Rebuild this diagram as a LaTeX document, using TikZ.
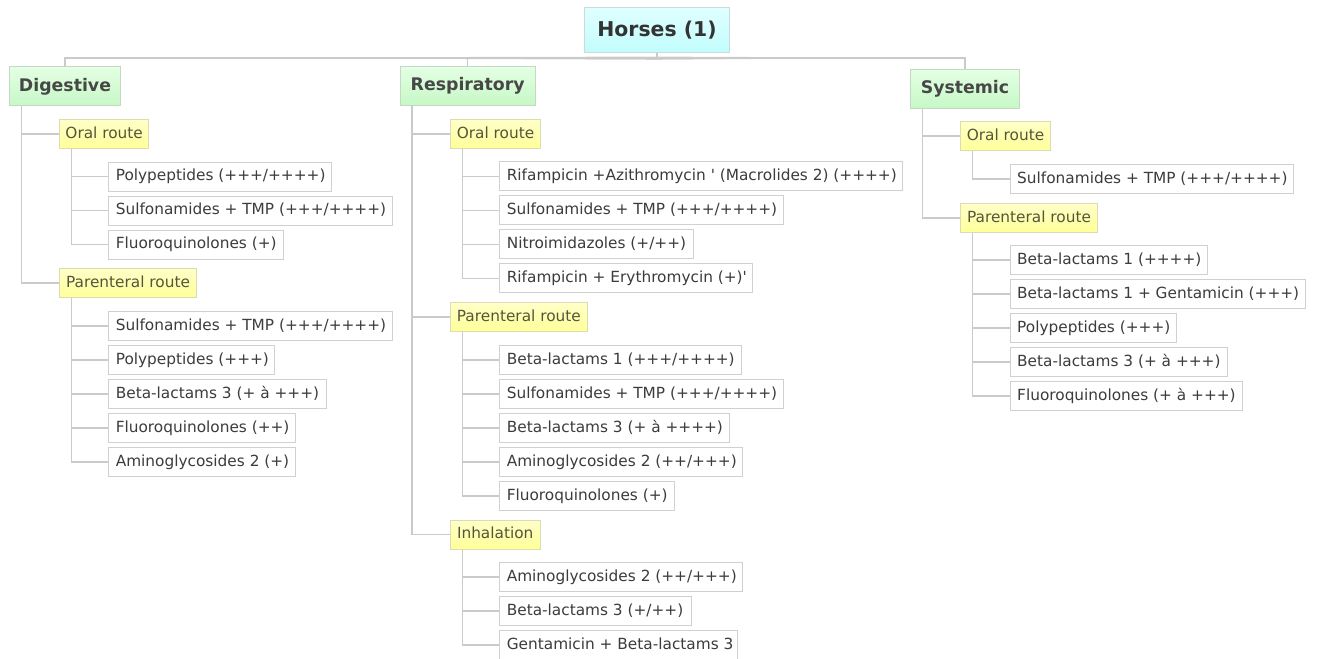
\documentclass[tikz,border=0pt]{standalone}
\usepackage{fontspec}
\setmainfont{DejaVu Sans}
\usetikzlibrary{calc}
\definecolor{connc}{HTML}{CACACA}
\definecolor{leafborder}{HTML}{D0D0D0}
\definecolor{leaftext}{HTML}{3C3C3C}
\definecolor{routetop}{HTML}{FFFFC8}
\definecolor{routebot}{HTML}{FFFF99}
\definecolor{routeborder}{HTML}{DCDCB4}
\definecolor{routetext}{HTML}{55553A}
\definecolor{cattop}{HTML}{E4FFE4}
\definecolor{catbot}{HTML}{C6F8C6}
\definecolor{catborder}{HTML}{C4D8C4}
\definecolor{cattext}{HTML}{474747}
\definecolor{roottop}{HTML}{E0FFFF}
\definecolor{rootbot}{HTML}{C2FCFC}
\definecolor{rootborder}{HTML}{C8DCDC}
\definecolor{roottext}{HTML}{333333}
\tikzset{
  conn/.style={draw=connc, line width=0.9pt},
  leafbox/.style={draw=leafborder, fill=white, line width=0.75pt, inner xsep=5.25pt, inner ysep=0pt,
    minimum height=21.75pt, anchor=west, text=leaftext, font=\fontsize{11.5}{13}\selectfont,
    text height=8.6pt, text depth=2.4pt},
  routebox/.style={draw=routeborder, top color=routetop, bottom color=routebot, line width=0.75pt,
    inner xsep=5.25pt, inner ysep=0pt, minimum height=21.75pt, anchor=west, text=routetext,
    font=\fontsize{11.5}{13}\selectfont, text height=8.6pt, text depth=2.4pt},
  catbox/.style={draw=catborder, top color=cattop, bottom color=catbot, line width=0.75pt,
    inner sep=0pt, text=cattext, font=\bfseries\fontsize{13}{15}\selectfont},
  rootbox/.style={draw=rootborder, top color=roottop, bottom color=rootbot, line width=0.75pt,
    inner sep=0pt, text=roottext, font=\bfseries\fontsize{15.3}{18}\selectfont}
}
\newcommand\leafnode[5]{\node[leafbox] (#1) at (#2,#4) {\makebox[\dimexpr(#3pt-#2pt-14pt)*3/4\relax][l]{#5}};}
\newcommand\routenode[5]{\node[routebox] (#1) at (#2,#4) {\makebox[\dimexpr(#3pt-#2pt-14pt)*3/4\relax][c]{#5}};}
\newcommand\linkto[2]{\draw[conn] ($(#1.south west)+(12.5,0)$) |- (#2.west);}
\begin{document}
\begin{tikzpicture}[x=0.75pt,y=-0.75pt]
\useasboundingbox (0,0) rectangle (1317,659);
% root and categories
\node[rootbox, minimum width=108.2pt, minimum height=34pt] (root) at (657,30) {Horses (1)};
\node[catbox, minimum width=83.5pt, minimum height=29.5pt] (dig) at (65,86.3) {Digestive};
\node[catbox, minimum width=101.5pt, minimum height=29pt] (res) at (467.7,86) {Respiratory};
\node[catbox, minimum width=81.5pt, minimum height=29pt] (sys) at (965,88.7) {Systemic};
\coordinate (bar) at (0,58);
\fill[black!30, opacity=0.6] (150,57.7) -- (657,56.6) -- (910,57.7) -- (657,59.8) -- cycle;
\draw[conn] (root.south) -- (root.south |- bar);
\draw[conn] (dig.north) |- (sys.north |- bar) -- (sys.north);
\draw[conn] (res.north) -- (res.north |- bar);
% Digestive
\routenode{doral}{59}{148.3}{134}{Oral route}
\routenode{dpar}{59}{196}{283}{Parenteral route}
\leafnode{do1}{108.3}{331}{176.7}{Polypeptides (+++/++++)}
\leafnode{do2}{108.3}{392.3}{210.7}{Sulfonamides + TMP (+++/++++)}
\leafnode{do3}{108.3}{282.7}{244.7}{Fluoroquinolones (+)}
\leafnode{dp1}{108.3}{392.3}{326}{Sulfonamides + TMP (+++/++++)}
\leafnode{dp2}{108.3}{274.3}{360}{Polypeptides (+++)}
\leafnode{dp3}{108.3}{326.3}{394}{Beta-lactams 3 (+ à +++)}
\leafnode{dp4}{108.3}{294.7}{428}{Fluoroquinolones (++)}
\leafnode{dp5}{108.3}{294.7}{462}{Aminoglycosides 2 (+)}
% Respiratory
\routenode{roral}{450}{540}{134}{Oral route}
\routenode{rpar}{449.7}{587}{317}{Parenteral route}
\routenode{rinh}{449.7}{539.7}{534.5}{Inhalation}
\leafnode{ro1}{499.3}{902.3}{176.5}{Rifampicin +Azithromycin \textquotesingle{} (Macrolides 2) (++++)}
\leafnode{ro2}{499.3}{782.7}{210.5}{Sulfonamides + TMP (+++/++++)}
\leafnode{ro3}{499.3}{693}{244.5}{Nitroimidazoles (+/++)}
\leafnode{ro4}{499.3}{752.3}{278.5}{Rifampicin + Erythromycin (+)\textquotesingle}
\leafnode{rp1}{499.3}{741.3}{360}{Beta-lactams 1 (+++/++++)}
\leafnode{rp2}{499.3}{782.7}{394}{Sulfonamides + TMP (+++/++++)}
\leafnode{rp3}{499.3}{729.3}{428}{Beta-lactams 3 (+ à ++++)}
\leafnode{rp4}{499.3}{742.3}{462}{Aminoglycosides 2 (++/+++)}
\leafnode{rp5}{499.3}{673.7}{496}{Fluoroquinolones (+)}
\leafnode{ri1}{499.3}{742.3}{577}{Aminoglycosides 2 (++/+++)}
\leafnode{ri2}{499.3}{691.3}{611}{Beta-lactams 3 (+/++)}
\leafnode{ri3}{499.3}{737.3}{645}{Gentamicin + Beta-lactams 3}
% Systemic
\routenode{soral}{960}{1050}{136}{Oral route}
\routenode{spar}{960}{1097}{218}{Parenteral route}
\leafnode{so1}{1009.7}{1293}{179}{Sulfonamides + TMP (+++/++++)}
\leafnode{sp1}{1009.7}{1207.3}{260}{Beta-lactams 1 (++++)}
\leafnode{sp2}{1009.7}{1305.3}{294}{Beta-lactams 1 + Gentamicin (+++)}
\leafnode{sp3}{1009.7}{1175.7}{328}{Polypeptides (+++)}
\leafnode{sp4}{1009.7}{1227.3}{362}{Beta-lactams 3 (+ à +++)}
\leafnode{sp5}{1009.7}{1241.7}{396}{Fluoroquinolones (+ à +++)}
% connectors
\linkto{dig}{doral}\linkto{dig}{dpar}
\linkto{doral}{do1}\linkto{doral}{do2}\linkto{doral}{do3}
\linkto{dpar}{dp1}\linkto{dpar}{dp2}\linkto{dpar}{dp3}\linkto{dpar}{dp4}\linkto{dpar}{dp5}
\linkto{res}{roral}\linkto{res}{rpar}\linkto{res}{rinh}
\linkto{roral}{ro1}\linkto{roral}{ro2}\linkto{roral}{ro3}\linkto{roral}{ro4}
\linkto{rpar}{rp1}\linkto{rpar}{rp2}\linkto{rpar}{rp3}\linkto{rpar}{rp4}\linkto{rpar}{rp5}
\linkto{rinh}{ri1}\linkto{rinh}{ri2}\linkto{rinh}{ri3}
\linkto{sys}{soral}\linkto{sys}{spar}
\linkto{soral}{so1}
\linkto{spar}{sp1}\linkto{spar}{sp2}\linkto{spar}{sp3}\linkto{spar}{sp4}\linkto{spar}{sp5}
\end{tikzpicture}
\end{document}
